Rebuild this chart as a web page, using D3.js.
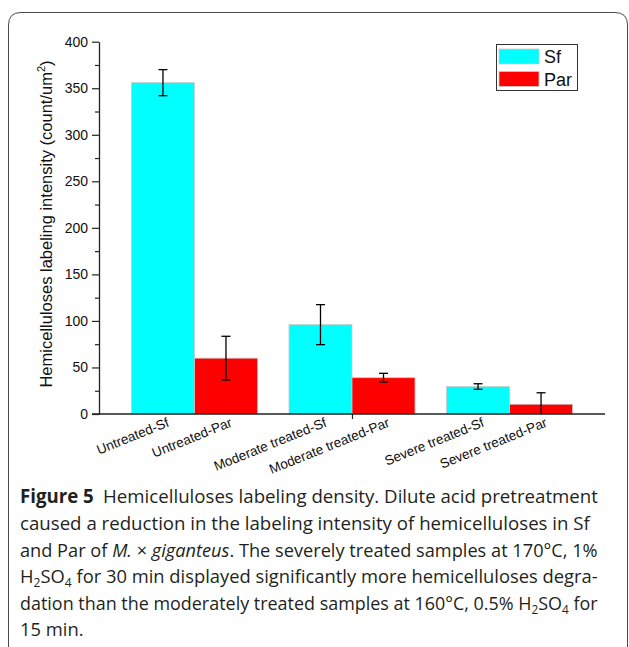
<!DOCTYPE html>
<html>
<head>
<meta charset="utf-8">
<script src="https://cdn.jsdelivr.net/npm/d3@7"></script>
<style>
  html, body { margin: 0; padding: 0; background: #fff; }
  svg { display: block; }
</style>
</head>
<body>
<svg id="chart" width="629" height="647"></svg>
<script>
// ---- data ----
const groups = ["Untreated", "Moderate treated", "Severe treated"];
const seriesNames = ["Sf", "Par"];
const sfValues = [356, 96, 29.5];
const sfErrors = [14, 21.5, 3];
const parValues = [60, 39, 10.5];
const parErrors = [23.5, 4.7, 12.3];
const barLabels = [
  ["Untreated-Sf", "Untreated-Par"],
  ["Moderate treated-Sf", "Moderate treated-Par"],
  ["Severe treated-Sf", "Severe treated-Par"]
];
const yTicks = [0, 50, 100, 150, 200, 250, 300, 350, 400];
const yMinorTicks = [25, 75, 125, 175, 225, 275, 325, 375];
const colors = ["#00FFFF", "#FF0000"];

const svg = d3.select("#chart");

// ---- outer frame ----
svg.append("path")
  .attr("d", "M8.5,647 V25 Q8.5,12.5 21,12.5 H615 Q627.5,12.5 627.5,25 V647")
  .attr("fill", "none").attr("stroke", "#4a4a4a").attr("stroke-width", 1);

// ---- scales ----
const x = d3.scalePoint().domain(groups).range([99, 605]).padding(0.606);
const step = x.step();
const barW = step * 0.4;
const y = d3.scaleLinear().domain([0, 400]).range([414, 41.7]);

const font = "'Liberation Sans', Arial, sans-serif";

// ---- bars ----
const barData = [];
groups.forEach((g, i) => {
  barData.push({g, s: 0, v: sfValues[i], e: sfErrors[i], label: barLabels[i][0], cx: x(g) - barW / 2});
  barData.push({g, s: 1, v: parValues[i], e: parErrors[i], label: barLabels[i][1], cx: x(g) + barW / 2});
});

svg.append("g").selectAll("rect").data(barData).enter().append("rect")
  .attr("x", d => d.cx - barW / 2)
  .attr("width", barW)
  .attr("y", d => y(d.v))
  .attr("height", d => y(0) - y(d.v))
  .attr("fill", d => colors[d.s])
  .attr("stroke", "#c9c9c9").attr("stroke-width", 0.8);

// ---- error bars ----
const eg = svg.append("g").attr("stroke", "#000").attr("stroke-width", 1.3);
barData.forEach(d => {
  const hi = d.v + d.e, lo = Math.max(0, d.v - d.e);
  eg.append("line").attr("x1", d.cx).attr("x2", d.cx).attr("y1", y(hi)).attr("y2", y(lo));
  eg.append("line").attr("x1", d.cx - 4.5).attr("x2", d.cx + 4.5).attr("y1", y(hi)).attr("y2", y(hi));
  if (d.v - d.e >= 0)
    eg.append("line").attr("x1", d.cx - 4.5).attr("x2", d.cx + 4.5).attr("y1", y(lo)).attr("y2", y(lo));
});

// ---- y axis ----
const yAxis = svg.append("g").attr("transform", "translate(99,0)")
  .call(d3.axisLeft(y).tickValues(yTicks).tickSize(7).tickSizeOuter(0).tickPadding(4));
yAxis.select(".domain").attr("stroke", "#222").attr("stroke-width", 1.3);
yAxis.selectAll(".tick line").attr("stroke", "#222").attr("stroke-width", 1.2);
yAxis.selectAll(".tick text").attr("font-family", font).attr("font-size", 14).attr("fill", "#111");
const yMinor = svg.append("g").attr("transform", "translate(99,0)")
  .call(d3.axisLeft(y).tickValues(yMinorTicks).tickSize(4).tickSizeOuter(0).tickFormat(""));
yMinor.select(".domain").remove();
yMinor.selectAll(".tick line").attr("stroke", "#222").attr("stroke-width", 1.2);

// ---- x axis ----
svg.append("line").attr("x1", 92).attr("x2", 605).attr("y1", y(0)).attr("y2", y(0))
  .attr("stroke", "#222").attr("stroke-width", 1.3);
const xAxis = svg.append("g").attr("transform", `translate(0,${y(0)})`)
  .call(d3.axisBottom(x).tickValues([groups[1]]).tickSize(5).tickSizeOuter(0).tickFormat(""));
xAxis.select(".domain").remove();
xAxis.selectAll(".tick line").attr("stroke", "#222").attr("stroke-width", 1.2);

// ---- x labels (rotated) ----
svg.append("g").selectAll("text").data(barData).enter().append("text")
  .attr("transform", d => `translate(${d.cx + 7},${y(0) + 12}) rotate(-22)`)
  .attr("text-anchor", "end")
  .attr("font-family", font).attr("font-size", 13.5).attr("fill", "#111")
  .text(d => d.label);

// ---- y label ----
const yl = svg.append("text")
  .attr("transform", "translate(52,224) rotate(-90)")
  .attr("text-anchor", "middle")
  .attr("font-family", font).attr("font-size", 16.5).attr("fill", "#111");
yl.append("tspan").text("Hemicelluloses labeling intensity (count/um");
yl.append("tspan").attr("dy", -7).attr("font-size", 11).text("2");
yl.append("tspan").attr("dy", 7).text(")");

// ---- legend ----
const lg = svg.append("g");
lg.append("rect").attr("x", 496.5).attr("y", 44.5).attr("width", 81).attr("height", 46)
  .attr("fill", "#fff").attr("stroke", "#333").attr("stroke-width", 1);
seriesNames.forEach((n, i) => {
  lg.append("rect").attr("x", 499).attr("y", 49 + i * 22.5).attr("width", 40).attr("height", 15)
    .attr("fill", colors[i]).attr("stroke", "#c9c9c9").attr("stroke-width", 0.8);
  lg.append("text").attr("x", 544).attr("y", 63 + i * 22.5)
    .attr("font-family", font).attr("font-size", 18).attr("fill", "#111").text(n);
});

// ---- caption ----
const capFont = "'Open Sans', 'Noto Sans', sans-serif";
const capColor = "#231f20";
const capLines = [
  [{t: "Figure 5", b: true}, {t: "\u2002Hemicelluloses labeling density. Dilute acid pretreatment"}],
  [{t: "caused a reduction in the labeling intensity of hemicelluloses in Sf"}],
  [{t: "and Par of "}, {t: "M.", i: true}, {t: " \u00d7 "}, {t: "giganteus", i: true}, {t: ". The severely treated samples at 170\u00b0C, 1%"}],
  [{t: "H"}, {t: "2", sub: true}, {t: "SO"}, {t: "4", sub: true}, {t: " for 30 min displayed significantly more hemicelluloses degra-"}],
  [{t: "dation than the moderately treated samples at 160\u00b0C, 0.5% H"}, {t: "2", sub: true}, {t: "SO"}, {t: "4", sub: true}, {t: " for"}],
  [{t: "15 min."}]
];
const capTargets = [578, 570, 578, 578, 578, null];
const capBase = [503, 530, 556.5, 583, 610, 636];
const scales = [];
const lineNodes = [];
capLines.forEach((parts, li) => {
  const g = svg.append("g");
  const t = g.append("text").attr("x", 0).attr("y", 0)
    .attr("font-family", capFont).attr("font-size", 19).attr("fill", capColor);
  parts.forEach(p => {
    const ts = t.append("tspan").text(p.t);
    if (p.b) ts.attr("font-weight", "bold");
    if (p.i) ts.attr("font-style", "italic");
    if (p.sub) {
      ts.attr("font-size", 12.5).attr("dy", 4);
    }
  });
  t.selectAll("tspan").each(function(d, k) {
    const p = parts[k];
    const prev = parts[k - 1];
    if (!p.sub && prev && prev.sub) d3.select(this).attr("dy", -4);
  });
  const w = t.node().getComputedTextLength();
  let s = capTargets[li] ? capTargets[li] / w : null;
  scales.push(s);
  lineNodes.push({g, li});
});
const avg = d3.mean(scales.filter(s => s));
lineNodes.forEach(({g, li}) => {
  const s = scales[li] || avg;
  g.attr("transform", `translate(20,${capBase[li]}) scale(${s},1)`);
});
</script>
</body>
</html>
